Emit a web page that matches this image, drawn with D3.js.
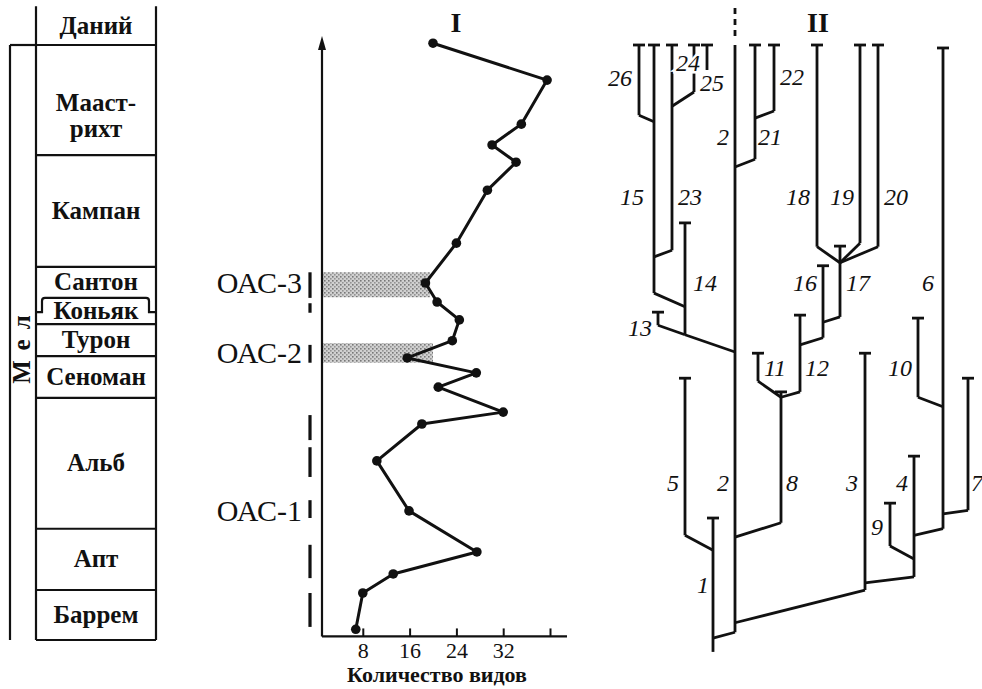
<!DOCTYPE html>
<html>
<head>
<meta charset="utf-8">
<script src="https://cdn.jsdelivr.net/npm/d3@7"></script>
<style>
body { margin: 0; background: #fff; }
text { font-family: "Liberation Serif", "DejaVu Serif", serif; fill: #111; }
</style>
</head>
<body>
<div id="chart-area"></div>
<script>
// levels: 0 = base of Barremian, 100 = top of Maastrichtian
var stageNames = ["Баррем", "Апт", "Альб", "Сеноман", "Турон", "Коньяк", "Сантон", "Кампан", "Мааст-|рихт", "Даний"];
var stageBases = [0, 8.4, 18.7, 40.7, 47.7, 53.1, 57.5, 62.7, 81.5, 100];
var stageTops = [8.4, 18.7, 40.7, 47.7, 53.1, 57.5, 62.7, 81.5, 100, 106.5];

// panel I: number of species by level
var sampleLevels = [100.3, 94.1, 86.7, 83.2, 80.3, 75.6, 66.7, 60.0, 56.8, 53.8, 50.3, 47.4, 44.9, 42.5, 38.3, 36.3, 30.1, 21.7, 14.8, 11.1, 7.9, 1.8];
var speciesCounts = [20.0, 39.5, 35.1, 30.1, 34.2, 29.3, 24.0, 18.7, 20.7, 24.5, 23.3, 15.6, 27.4, 20.9, 32.0, 18.1, 10.4, 15.9, 27.5, 13.2, 8.0, 6.8];
var countTicks = [8, 16, 24, 32, 40];
var countTickLabels = ["8", "16", "24", "32", ""];

// oceanic anoxic events
var oaeNames = ["ОАС-1", "ОАС-2", "ОАС-3"];
var oaeLabelLevels = [21.7, 48.2, 60.0];
var bandTops = [null, 49.9, 61.8];
var bandBottoms = [null, 46.6, 57.6];
var bandReach = [null, 20.0, 19.5];
var barTops = [61.8, 56.6, 49.6, 37.8, 32.4, 23.5, 16.0, 7.9];
var barBottoms = [57.5, 55.0, 46.6, 33.6, 27.4, 20.5, 10.4, 2.2];

// panel II: lineages
var branchIds = [1, 2, 3, 4, 5, 6, 7, 8, 9, 10, 11, 12, 13, 14, 15, 16, 17, 18, 19, 20, 21, 22, 23, 24, 25, 26];
var branchX = [9.3, 11.5, 24.5, 29.4, 6.5, 32.3, 34.8, 16.1, 27.0, 29.8, 13.8, 18.0, 3.8, 6.5, 3.4, 20.3, 22.0, 19.7, 24.0, 25.8, 13.5, 15.4, 5.2, 8.7, 7.4, 1.9];
var branchTop = [20.5, 100, 48.2, 30.9, 44.0, 99.5, 44.0, 41.7, 23.0, 54.1, 48.2, 54.6, 55.1, 70.1, 100, 62.9, 66.2, 100, 100, 100, 100, 100, 100, 100, 100, 100];
var branchBase = [-2.0, 1.3, 8.4, 10.6, 17.6, 18.7, 21.8, 19.7, 15.8, 40.8, 43.5, 41.7, 52.9, 51.3, 58.3, 50.8, 54.3, 66.1, 66.7, 66.1, 80.8, 88.9, 65.5, 95.8, 92.1, 88.2];
var branchParent = [null, 1, 2, 3, 1, 4, 6, 2, 4, 6, 8, 8, 14, 2, 14, 12, 16, 17, 17, 17, 2, 21, 15, null, 23, 15];
var branchAttach = [null, 0.3, 2.9, 9.6, 15.1, 17.6, 21.2, 17.3, 13.6, 39.2, 40.8, 40.8, 51.3, 48.4, 56.0, 49.6, 53.4, 63.4, 63.4, 63.4, 79.5, 87.7, 64.4, null, 89.7, 87.1];
var branchCap = [true, false, true, true, true, true, true, true, true, true, true, true, true, true, true, true, true, true, true, true, true, true, true, true, true, true];

var treeLabels = ["26", "24", "25", "22", "2", "21", "15", "23", "18", "19", "20", "14", "16", "17", "6", "13", "11", "12", "10", "5", "2", "8", "3", "4", "7", "9", "1"];
var treeLabelX = [0.0, 6.8, 9.2, 17.2, 10.3, 15.0, 1.2, 7.0, 17.8, 22.2, 27.6, 8.5, 18.5, 23.8, 30.8, 2.0, 15.5, 19.7, 28.0, 5.3, 10.3, 17.2, 23.2, 28.2, 35.7, 25.7, 8.3];
var treeLabelLevel = [94.5, 97.0, 93.6, 94.6, 84.5, 84.5, 74.5, 74.5, 74.5, 74.5, 74.5, 60.0, 60.0, 60.0, 60.0, 52.4, 45.7, 45.7, 45.7, 26.4, 26.4, 26.4, 26.4, 26.4, 26.4, 19.0, 9.2];

var ink = "#111";
var svg = d3.select("#chart-area").append("svg")
    .attr("width", 982)
    .attr("height", 689);

var y = d3.scaleLinear().domain([0, 100]).range([640, 45]);
var xCount = d3.scaleLinear().domain([0, 40]).range([316, 550]);
var xTree = d3.scaleLinear().domain([0, 36]).range([620, 980]);

function seg(g, x1, y1, x2, y2, w) {
    return g.append("line")
        .attr("x1", x1).attr("y1", y1).attr("x2", x2).attr("y2", y2)
        .attr("stroke", ink).attr("stroke-width", w || 2.8);
}

// ---------- stratigraphic column ----------
var col = svg.append("g");
var colL = 36, colR = 156, melX = 10;
seg(col, colL, y(106.5), colL, y(0), 2.2);
seg(col, colR, y(106.5), colR, y(0), 2.2);
seg(col, melX, y(100), melX, y(0), 2.2);
seg(col, melX, y(100), colL, y(100), 2.2);

stageBases.forEach(function(b, i) {
    if (stageNames[i] === "Сантон") {
        // stepped boundary around Коньяк
        var low = y(55.1), high = y(b);
        col.append("path")
            .attr("d", "M" + colL + "," + low + "H" + (colL + 6) + "V" + (high + 3) +
                "Q" + (colL + 6) + "," + high + " " + (colL + 9) + "," + high +
                "H" + (colR - 10) + "Q" + (colR - 7) + "," + high + " " + (colR - 7) + "," + (high + 3) +
                "V" + low + "H" + colR)
            .attr("fill", "none").attr("stroke", ink).attr("stroke-width", 2.2);
        return;
    }
    if (b === 100) return;
    seg(col, colL, y(b), colR, y(b), 2.2);
});
seg(col, colL, y(100), colR, y(100), 2.2);

stageNames.forEach(function(name, i) {
    var mid = y((stageBases[i] + stageTops[i]) / 2);
    var lines = name.split("|");
    var t = col.append("text")
        .attr("x", (colL + colR) / 2)
        .attr("text-anchor", "middle")
        .attr("font-weight", "bold")
        .attr("font-size", 25);
    if (lines.length > 1) {
        t.attr("y", mid + 11);
        t.append("tspan").attr("x", (colL + colR) / 2).text(lines[0]);
        t.append("tspan").attr("x", (colL + colR) / 2).attr("dy", 26).text(lines[1]);
    } else {
        t.attr("y", mid + 8).text(name);
    }
});

col.append("text")
    .attr("transform", "translate(30," + (y(50) + 2) + ") rotate(-90)")
    .attr("text-anchor", "middle")
    .attr("font-weight", "bold")
    .attr("font-size", 25)
    .attr("letter-spacing", 10)
    .text("Мел");

// ---------- panel I ----------
var p1 = svg.append("g");
var axisX = 322, axisBottom = y(0.6);

var defs = svg.append("defs");
var pat = defs.append("pattern").attr("id", "stipple")
    .attr("width", 4).attr("height", 4).attr("patternUnits", "userSpaceOnUse");
pat.append("rect").attr("width", 4).attr("height", 4).attr("fill", "#d0d0d0");
pat.append("rect").attr("width", 1.6).attr("height", 1.6).attr("fill", "#777");
pat.append("rect").attr("x", 2).attr("y", 2).attr("width", 1.6).attr("height", 1.6).attr("fill", "#939393");

oaeNames.forEach(function(name, i) {
    if (bandTops[i] !== null) {
        p1.append("rect")
            .attr("x", axisX)
            .attr("y", y(bandTops[i]))
            .attr("width", xCount(bandReach[i]) - axisX)
            .attr("height", y(bandBottoms[i]) - y(bandTops[i]))
            .attr("fill", "url(#stipple)");
    }
    p1.append("text")
        .attr("x", 302)
        .attr("y", y(oaeLabelLevels[i]) + 10)
        .attr("text-anchor", "end")
        .attr("font-size", 30)
        .text(name);
});

barTops.forEach(function(t, i) {
    seg(p1, 310, y(t), 310, y(barBottoms[i]), 3.2);
});

// vertical axis with arrow
seg(p1, axisX, axisBottom, axisX, y(101.5) + 10, 2.2);
p1.append("path")
    .attr("d", "M" + axisX + "," + y(101.5) + "L" + (axisX - 4) + "," + (y(101.5) + 14) +
        "L" + (axisX + 4) + "," + (y(101.5) + 14) + "Z")
    .attr("fill", ink);

// horizontal axis
var xAxis = d3.axisBottom(xCount)
    .tickValues(countTicks)
    .tickSizeInner(-8)
    .tickSizeOuter(0)
    .tickPadding(6)
    .tickFormat(function(d, i) { return countTickLabels[i]; });
var ax = p1.append("g")
    .attr("transform", "translate(0," + axisBottom + ")")
    .call(xAxis);
ax.select(".domain").remove();
ax.selectAll(".tick line").attr("stroke", ink).attr("stroke-width", 2);
ax.selectAll(".tick text")
    .attr("font-family", "Liberation Serif, DejaVu Serif, serif")
    .attr("font-size", 22)
    .attr("fill", ink);
seg(p1, axisX, axisBottom, 567, axisBottom, 2.2);

p1.append("text")
    .attr("x", 437).attr("y", 682)
    .attr("text-anchor", "middle")
    .attr("font-weight", "bold")
    .attr("font-size", 22)
    .text("Количество видов");

var line = d3.line()
    .x(function(d) { return xCount(d[1]); })
    .y(function(d) { return y(d[0]); });
var pts = sampleLevels.map(function(l, i) { return [l, speciesCounts[i]]; });
p1.append("path")
    .attr("d", line(pts))
    .attr("fill", "none")
    .attr("stroke", ink)
    .attr("stroke-width", 3)
    .attr("stroke-linejoin", "round");
p1.selectAll("circle").data(pts).enter()
    .append("circle")
        .attr("cx", function(d) { return xCount(d[1]); })
        .attr("cy", function(d) { return y(d[0]); })
        .attr("r", 4.8)
        .attr("fill", ink);

p1.append("text")
    .attr("x", 456).attr("y", 32)
    .attr("text-anchor", "middle")
    .attr("font-weight", "bold")
    .attr("font-size", 28)
    .text("I");

// ---------- panel II ----------
var p2 = svg.append("g");

// dashed continuation of lineage 2
p2.append("line")
    .attr("x1", xTree(branchX[1])).attr("x2", xTree(branchX[1]))
    .attr("y1", y(106.2)).attr("y2", y(101))
    .attr("stroke", ink).attr("stroke-width", 2.8)
    .attr("stroke-dasharray", "6,5");

branchIds.forEach(function(id, i) {
    var x = xTree(branchX[i]);
    if (branchParent[i] !== null) {
        var p = branchIds.indexOf(branchParent[i]);
        seg(p2, xTree(branchX[p]), y(branchAttach[i]), x, y(branchBase[i]));
    }
    seg(p2, x, y(branchBase[i]), x, y(branchTop[i]));
    if (branchCap[i]) {
        seg(p2, x - 6, y(branchTop[i]), x + 6, y(branchTop[i]));
    }
});

treeLabels.forEach(function(lab, i) {
    var t = p2.append("text")
        .attr("x", xTree(treeLabelX[i]))
        .attr("y", y(treeLabelLevel[i]) + 8)
        .attr("text-anchor", "middle")
        .attr("font-style", "italic")
        .attr("font-size", 24)
        .text(lab);
    if (lab === "24") {
        t.attr("stroke", "#fff").attr("stroke-width", 5).attr("paint-order", "stroke");
    }
});

p2.append("text")
    .attr("x", 818).attr("y", 32)
    .attr("text-anchor", "middle")
    .attr("font-weight", "bold")
    .attr("font-size", 28)
    .text("II");
</script>
</body>
</html>
